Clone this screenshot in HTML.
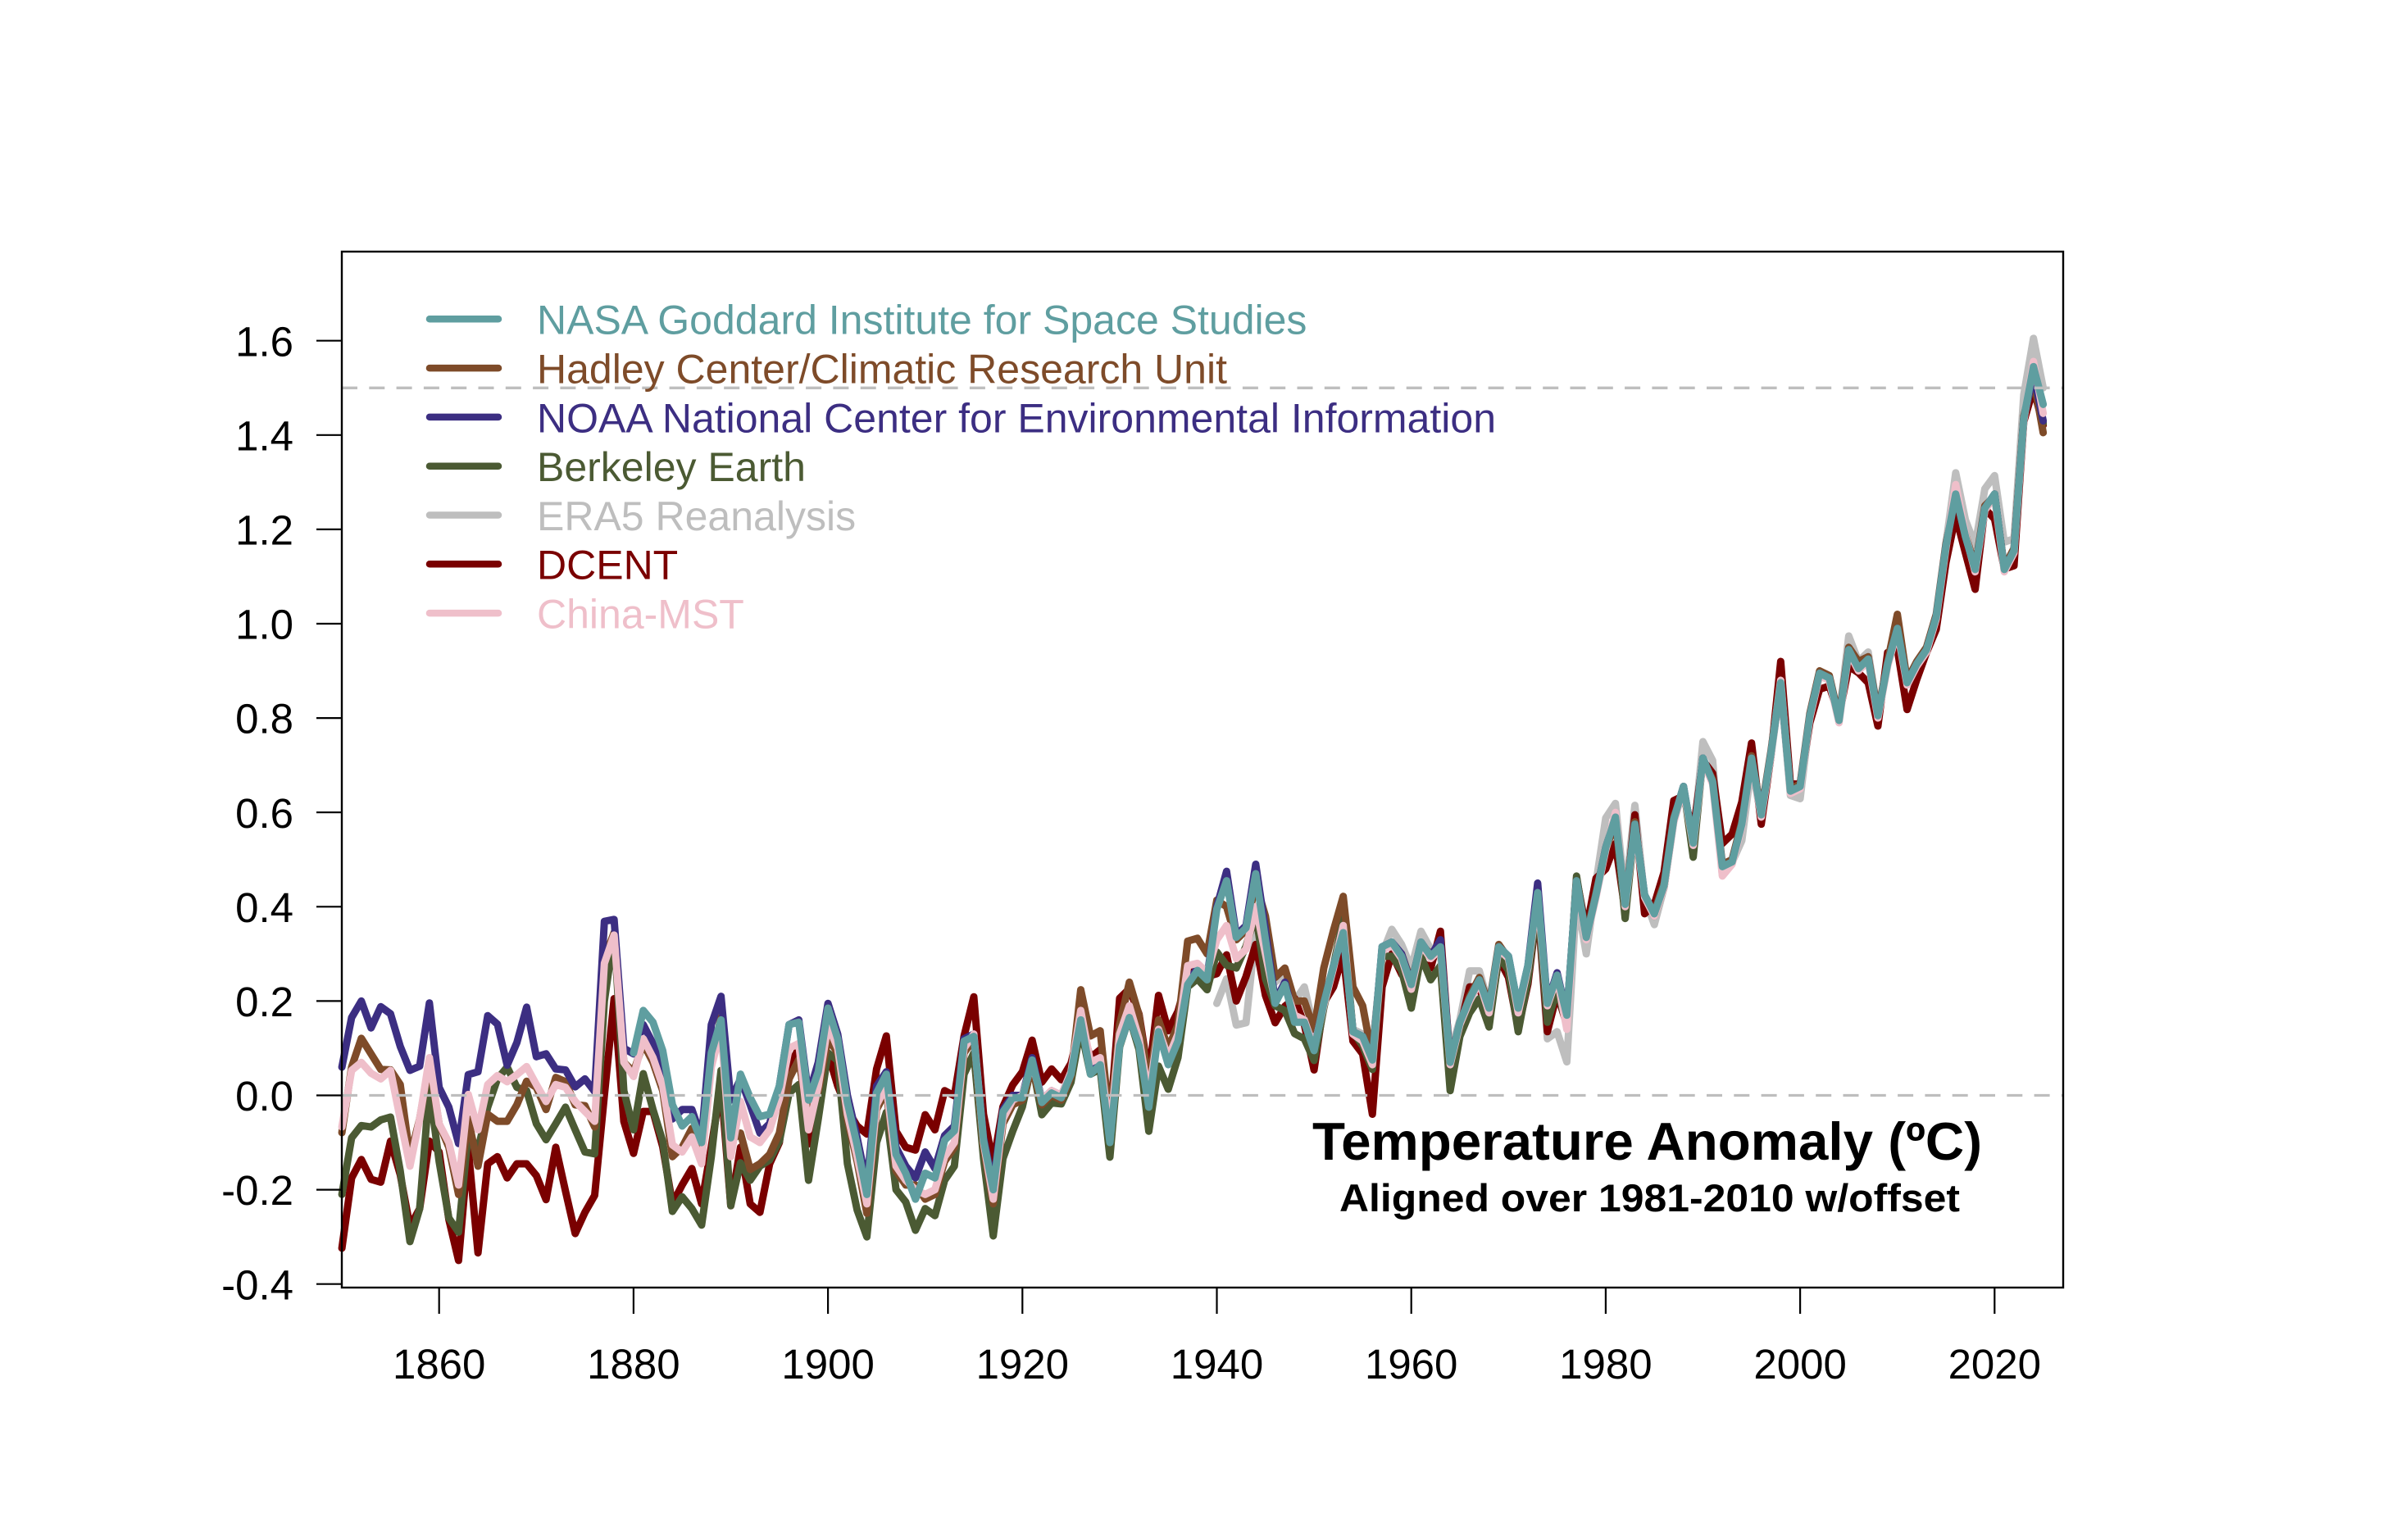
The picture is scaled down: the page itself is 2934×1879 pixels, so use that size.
<!DOCTYPE html>
<html>
<head>
<meta charset="utf-8">
<style>
  html,body{margin:0;padding:0;background:#fff;}
  svg{display:block;}
  text{font-family:"Liberation Sans",Arial,Helvetica,sans-serif;}
</style>
</head>
<body>
<svg xmlns="http://www.w3.org/2000/svg" width="2934" height="1879" viewBox="0 0 2934 1879">
<rect x="0" y="0" width="2934" height="1879" fill="#ffffff"/>

<!-- data series: x = year-1850, y = anomaly -->
<g transform="translate(417.1 1336.5) scale(11.86 -575.5)" fill="none" stroke-linejoin="round" stroke-linecap="round">
  <!-- ERA5 -->
  <polyline vector-effect="non-scaling-stroke" stroke="#BEBEBE" stroke-width="9" points="90,0.195 91,0.247 92,0.149 93,0.154 94,0.35 95,0.224 96,0.24 97,0.258 98,0.2 99,0.23 100,0.14 101,0.21 102,0.27 103,0.33 104,0.14 105,0.13 106,0.1 107,0.3 108,0.352 109,0.32 110,0.27 111,0.348 112,0.31 113,0.3 114,0.09 115,0.16 116,0.264 117,0.264 118,0.19 119,0.31 120,0.28 121,0.17 122,0.26 123,0.4 124,0.12 125,0.135 126,0.071 127,0.42 128,0.3 129,0.45 130,0.588 131,0.619 132,0.42 133,0.615 134,0.42 135,0.362 136,0.44 137,0.58 138,0.65 139,0.54 140,0.75 141,0.71 142,0.467 143,0.494 144,0.54 145,0.7 146,0.59 147,0.72 148,0.87 149,0.636 150,0.629 151,0.8 152,0.89 153,0.88 154,0.8 155,0.974 156,0.92 157,0.94 158,0.81 159,0.92 160,1 161,0.88 162,0.92 163,0.95 164,1.01 165,1.17 166,1.32 167,1.22 168,1.166 169,1.286 170,1.314 171,1.173 172,1.18 173,1.485 174,1.605 175,1.5"/>
  <!-- DCENT -->
  <polyline vector-effect="non-scaling-stroke" stroke="#7A0000" stroke-width="9" points="0,-0.324 1,-0.175 2,-0.136 3,-0.178 4,-0.184 5,-0.097 6,-0.168 7,-0.278 8,-0.24 9,-0.097 10,-0.12 11,-0.263 12,-0.35 13,-0.114 14,-0.334 15,-0.145 16,-0.13 17,-0.175 18,-0.145 19,-0.145 20,-0.17 21,-0.221 22,-0.11 23,-0.203 24,-0.293 25,-0.248 26,-0.212 27,0 28,0.205 29,-0.055 30,-0.123 31,-0.034 32,-0.034 33,-0.109 34,-0.23 35,-0.19 36,-0.155 37,-0.23 38,-0.109 39,0.023 40,-0.234 41,-0.11 42,-0.23 43,-0.248 44,-0.145 45,-0.1 46,0.06 47,0.1 48,-0.103 49,0 50,0.09 51,0.02 52,-0.03 53,-0.065 54,-0.082 55,0.056 56,0.126 57,-0.076 58,-0.11 59,-0.116 60,-0.041 61,-0.073 62,0.01 63,-0.001 64,0.126 65,0.209 66,-0.04 67,-0.145 68,-0.024 69,0.022 70,0.05 71,0.117 72,0.028 73,0.056 74,0.033 75,0.068 76,0.15 77,0.08 78,0.097 79,-0.06 80,0.206 81,0.226 82,0.172 83,0.04 84,0.212 85,0.137 86,0.178 87,0.252 88,0.27 89,0.252 90,0.258 91,0.298 92,0.2 93,0.252 94,0.32 95,0.212 96,0.154 97,0.189 98,0.206 99,0.15 100,0.054 101,0.196 102,0.23 103,0.3 104,0.115 105,0.088 106,-0.04 107,0.23 108,0.3 109,0.257 110,0.23 111,0.284 112,0.27 113,0.348 114,0.068 115,0.142 116,0.23 117,0.23 118,0.162 119,0.29 120,0.25 121,0.142 122,0.236 123,0.405 124,0.135 125,0.216 126,0.15 127,0.46 128,0.35 129,0.46 130,0.48 131,0.534 132,0.39 133,0.595 134,0.385 135,0.405 136,0.473 137,0.625 138,0.635 139,0.56 140,0.71 141,0.683 142,0.534 143,0.554 144,0.622 145,0.747 146,0.575 147,0.72 148,0.92 149,0.66 150,0.66 151,0.79 152,0.861 153,0.868 154,0.804 155,0.91 156,0.896 157,0.875 158,0.783 159,0.939 160,0.946 161,0.818 162,0.882 163,0.939 164,0.988 165,1.13 166,1.229 167,1.15 168,1.073 169,1.244 170,1.222 171,1.116 172,1.123 173,1.428 174,1.499 175,1.421"/>
  <!-- Berkeley -->
  <polyline vector-effect="non-scaling-stroke" stroke="#4B5A33" stroke-width="9" points="0,-0.21 1,-0.09 2,-0.064 3,-0.067 4,-0.052 5,-0.046 6,-0.16 7,-0.31 8,-0.24 9,0.017 10,-0.14 11,-0.26 12,-0.29 13,-0.08 14,-0.115 15,-0.025 16,0.035 17,0.06 18,0.017 19,0.01 20,-0.06 21,-0.094 22,-0.06 23,-0.025 24,-0.073 25,-0.12 26,-0.124 27,0.2 28,0.345 29,0.01 30,-0.073 31,0.046 32,-0.03 33,-0.097 34,-0.246 35,-0.215 36,-0.24 37,-0.275 38,-0.13 39,0.053 40,-0.234 41,-0.143 42,-0.18 43,-0.15 44,-0.137 45,-0.097 46,0.005 47,0.023 48,-0.18 49,-0.05 50,0.09 51,0.074 52,-0.145 53,-0.243 54,-0.3 55,-0.1 56,-0.036 57,-0.2 58,-0.226 59,-0.286 60,-0.24 61,-0.255 62,-0.18 63,-0.15 64,0.045 65,0.09 66,-0.134 67,-0.298 68,-0.134 69,-0.076 70,-0.024 71,0.068 72,-0.041 73,-0.016 74,-0.018 75,0.028 76,0.143 77,0.045 78,0.056 79,-0.131 80,0.103 81,0.166 82,0.097 83,-0.076 84,0.062 85,0.013 86,0.08 87,0.23 88,0.247 89,0.224 90,0.304 91,0.276 92,0.27 93,0.316 94,0.385 95,0.247 96,0.19 97,0.18 98,0.131 99,0.12 100,0.074 101,0.185 102,0.275 103,0.375 104,0.135 105,0.105 106,0.055 107,0.295 108,0.295 109,0.265 110,0.185 111,0.295 112,0.245 113,0.275 114,0.01 115,0.125 116,0.175 117,0.205 118,0.145 119,0.295 120,0.265 121,0.135 122,0.245 123,0.41 124,0.155 125,0.225 126,0.15 127,0.465 128,0.335 129,0.425 130,0.525 131,0.59 132,0.375 133,0.575 134,0.42 135,0.38 136,0.44 137,0.585 138,0.655 139,0.505 140,0.715 141,0.665 142,0.485 143,0.495 144,0.575 145,0.715 146,0.595 147,0.725 148,0.875 149,0.645 150,0.655 151,0.805 152,0.895 153,0.885 154,0.795 155,0.945 156,0.905 157,0.925 158,0.805 159,0.915 160,0.99 161,0.875 162,0.915 163,0.945 164,1.015 165,1.165 166,1.275 167,1.185 168,1.115 169,1.245 170,1.275 171,1.115 172,1.155 173,1.435 174,1.535 175,1.425"/>
  <!-- Hadley -->
  <polyline vector-effect="non-scaling-stroke" stroke="#7E4B29" stroke-width="9" points="0,-0.079 1,0.06 2,0.121 3,0.088 4,0.055 5,0.054 6,0.023 7,-0.13 8,-0.05 9,0.07 10,-0.06 11,-0.11 12,-0.21 13,-0.05 14,-0.15 15,-0.04 16,-0.055 17,-0.055 18,-0.02 19,0.03 20,0.017 21,-0.03 22,0.038 23,0.029 24,-0.02 25,-0.022 26,-0.067 27,0.29 28,0.345 29,0.07 30,0.05 31,0.11 32,0.07 33,0.01 34,-0.13 35,-0.11 36,-0.07 37,-0.13 38,0.07 39,0.166 40,-0.097 41,-0.08 42,-0.157 43,-0.145 44,-0.125 45,-0.08 46,0.035 47,0.076 48,-0.05 49,0.01 50,0.12 51,0.09 52,-0.05 53,-0.14 54,-0.25 55,-0.03 56,0.01 57,-0.16 58,-0.19 59,-0.19 60,-0.22 61,-0.21 62,-0.14 63,-0.11 64,0.09 65,0.12 66,-0.11 67,-0.23 68,-0.06 69,-0.02 70,-0.01 71,0.06 72,-0.02 73,0 74,-0.01 75,0.04 76,0.224 77,0.126 78,0.137 79,-0.06 80,0.15 81,0.24 82,0.17 83,0.02 84,0.16 85,0.1 86,0.15 87,0.327 88,0.333 89,0.3 90,0.414 91,0.4 92,0.33 93,0.35 94,0.45 95,0.38 96,0.25 97,0.27 98,0.2 99,0.2 100,0.14 101,0.27 102,0.35 103,0.422 104,0.23 105,0.19 106,0.08 107,0.31 108,0.32 109,0.3 110,0.24 111,0.32 112,0.3 113,0.31 114,0.07 115,0.15 116,0.21 117,0.25 118,0.19 119,0.32 120,0.29 121,0.18 122,0.27 123,0.42 124,0.19 125,0.25 126,0.17 127,0.45 128,0.34 129,0.43 130,0.52 131,0.58 132,0.41 133,0.58 134,0.42 135,0.39 136,0.45 137,0.59 138,0.65 139,0.54 140,0.71 141,0.67 142,0.49 143,0.5 144,0.58 145,0.72 146,0.6 147,0.73 148,0.88 149,0.65 150,0.66 151,0.81 152,0.9 153,0.89 154,0.8 155,0.95 156,0.92 157,0.93 158,0.81 159,0.92 160,1.02 161,0.88 162,0.92 163,0.95 164,1.02 165,1.17 166,1.27 167,1.19 168,1.12 169,1.25 170,1.27 171,1.12 172,1.16 173,1.44 174,1.52 175,1.405"/>
  <!-- NOAA -->
  <polyline vector-effect="non-scaling-stroke" stroke="#3C2E82" stroke-width="9" points="0,0.06 1,0.165 2,0.2 3,0.143 4,0.188 5,0.173 6,0.104 7,0.053 8,0.062 9,0.196 10,0.017 11,-0.025 12,-0.102 13,0.044 14,0.05 15,0.169 16,0.151 17,0.064 18,0.112 19,0.187 20,0.082 21,0.088 22,0.056 23,0.054 24,0.018 25,0.035 26,0.008 27,0.369 28,0.373 29,0.1 30,0.088 31,0.15 32,0.11 33,0.06 34,-0.05 35,-0.03 36,-0.03 37,-0.09 38,0.15 39,0.21 40,-0.01 41,0.035 42,-0.02 43,-0.08 44,-0.06 45,0.02 46,0.15 47,0.16 48,0 49,0.07 50,0.195 51,0.13 52,0 53,-0.09 54,-0.19 55,0.02 56,0.05 57,-0.11 58,-0.15 59,-0.175 60,-0.12 61,-0.155 62,-0.085 63,-0.065 64,0.12 65,0.13 66,-0.09 67,-0.19 68,-0.03 69,0 70,0 71,0.08 72,-0.01 73,0.01 74,0 75,0.05 76,0.16 77,0.05 78,0.07 79,-0.09 80,0.11 81,0.17 82,0.11 83,-0.02 84,0.14 85,0.07 86,0.12 87,0.24 88,0.27 89,0.25 90,0.4 91,0.475 92,0.34 93,0.36 94,0.49 95,0.35 96,0.2 97,0.24 98,0.16 99,0.16 100,0.1 101,0.195 102,0.275 103,0.345 104,0.135 105,0.125 106,0.075 107,0.315 108,0.325 109,0.3 110,0.235 111,0.325 112,0.295 113,0.33 114,0.07 115,0.155 116,0.205 117,0.245 118,0.185 119,0.315 120,0.295 121,0.185 122,0.275 123,0.45 124,0.195 125,0.26 126,0.17 127,0.455 128,0.335 129,0.425 130,0.525 131,0.59 132,0.405 133,0.575 134,0.425 135,0.385 136,0.445 137,0.585 138,0.655 139,0.535 140,0.715 141,0.665 142,0.485 143,0.495 144,0.575 145,0.715 146,0.595 147,0.725 148,0.875 149,0.645 150,0.655 151,0.805 152,0.895 153,0.885 154,0.795 155,0.945 156,0.905 157,0.925 158,0.805 159,0.915 160,0.99 161,0.875 162,0.915 163,0.945 164,1.015 165,1.165 166,1.275 167,1.185 168,1.115 169,1.245 170,1.275 171,1.115 172,1.155 173,1.435 174,1.53 175,1.43"/>
  <!-- China-MST -->
  <polyline vector-effect="non-scaling-stroke" stroke="#EFBFCA" stroke-width="9" points="0,-0.067 1,0.053 2,0.07 3,0.047 4,0.035 5,0.053 6,-0.05 7,-0.15 8,-0.05 9,0.08 10,-0.06 11,-0.1 12,-0.19 13,0.002 14,-0.073 15,0.023 16,0.042 17,0.029 18,0.044 19,0.061 20,0.023 21,-0.013 22,0.023 23,0.017 24,-0.013 25,-0.034 26,-0.055 27,0.28 28,0.34 29,0.07 30,0.04 31,0.12 32,0.08 33,0.02 34,-0.105 35,-0.12 36,-0.088 37,-0.145 38,0.06 39,0.14 40,-0.13 41,-0.013 42,-0.088 43,-0.1 44,-0.073 45,-0.007 46,0.1 47,0.11 48,-0.073 49,0.02 50,0.149 51,0.1 52,-0.04 53,-0.13 54,-0.23 55,-0.02 56,0.02 57,-0.15 58,-0.18 59,-0.2 60,-0.21 61,-0.2 62,-0.13 63,-0.1 64,0.1 65,0.13 66,-0.1 67,-0.22 68,-0.05 69,-0.01 70,0 71,0.07 72,-0.01 73,0.01 74,0 75,0.05 76,0.18 77,0.07 78,0.08 79,-0.08 80,0.13 81,0.19 82,0.12 83,0 84,0.14 85,0.08 86,0.13 87,0.275 88,0.28 89,0.26 90,0.33 91,0.36 92,0.29 93,0.31 94,0.4 95,0.3 96,0.2 97,0.23 98,0.17 99,0.16 100,0.1 101,0.19 102,0.27 103,0.36 104,0.13 105,0.115 106,0.065 107,0.305 108,0.32 109,0.29 110,0.225 111,0.32 112,0.29 113,0.31 114,0.065 115,0.15 116,0.2 117,0.24 118,0.175 119,0.31 120,0.29 121,0.175 122,0.27 123,0.42 124,0.19 125,0.25 126,0.14 127,0.45 128,0.33 129,0.42 130,0.52 131,0.6 132,0.4 133,0.57 134,0.42 135,0.38 136,0.44 137,0.58 138,0.65 139,0.53 140,0.71 141,0.66 142,0.465 143,0.49 144,0.57 145,0.71 146,0.59 147,0.72 148,0.88 149,0.64 150,0.65 151,0.8 152,0.89 153,0.88 154,0.79 155,0.94 156,0.9 157,0.92 158,0.8 159,0.91 160,0.985 161,0.87 162,0.91 163,0.94 164,1.01 165,1.16 166,1.295 167,1.19 168,1.11 169,1.24 170,1.27 171,1.11 172,1.15 173,1.43 174,1.556 175,1.446"/>
  <!-- NASA GISS -->
  <polyline vector-effect="non-scaling-stroke" stroke="#5F9EA0" stroke-width="9" points="30,0.09 31,0.18 32,0.155 33,0.095 34,-0.02 35,-0.065 36,-0.045 37,-0.1 38,0.09 39,0.16 40,-0.09 41,0.045 42,-0.005 43,-0.045 44,-0.04 45,0.02 46,0.15 47,0.155 48,-0.01 49,0.05 50,0.185 51,0.12 52,-0.015 53,-0.105 54,-0.21 55,0.005 56,0.045 57,-0.125 58,-0.165 59,-0.22 60,-0.165 61,-0.175 62,-0.095 63,-0.075 64,0.115 65,0.125 66,-0.095 67,-0.2 68,-0.035 69,-0.005 70,-0.005 71,0.075 72,-0.015 73,0.005 74,-0.005 75,0.045 76,0.16 77,0.045 78,0.065 79,-0.1 80,0.105 81,0.165 82,0.105 83,-0.025 84,0.135 85,0.065 86,0.115 87,0.235 88,0.265 89,0.245 90,0.395 91,0.455 92,0.335 93,0.355 94,0.47 95,0.33 96,0.195 97,0.235 98,0.155 99,0.155 100,0.095 101,0.195 102,0.275 103,0.345 104,0.135 105,0.125 106,0.075 107,0.315 108,0.325 109,0.295 110,0.235 111,0.325 112,0.295 113,0.315 114,0.07 115,0.155 116,0.205 117,0.245 118,0.185 119,0.315 120,0.295 121,0.185 122,0.275 123,0.43 124,0.195 125,0.255 126,0.17 127,0.455 128,0.335 129,0.425 130,0.525 131,0.59 132,0.405 133,0.575 134,0.425 135,0.385 136,0.445 137,0.585 138,0.655 139,0.535 140,0.715 141,0.665 142,0.485 143,0.495 144,0.575 145,0.715 146,0.595 147,0.725 148,0.875 149,0.645 150,0.655 151,0.805 152,0.895 153,0.885 154,0.795 155,0.945 156,0.905 157,0.925 158,0.805 159,0.915 160,0.99 161,0.875 162,0.915 163,0.945 164,1.015 165,1.165 166,1.275 167,1.185 168,1.115 169,1.245 170,1.275 171,1.115 172,1.155 173,1.435 174,1.545 175,1.465"/>
</g>

<!-- reference dashed lines -->
<line x1="417" y1="1336.5" x2="2517" y2="1336.5" stroke="#BEBEBE" stroke-width="3.3" stroke-dasharray="19 14.3"/>
<line x1="417" y1="473.3" x2="2517" y2="473.3" stroke="#BEBEBE" stroke-width="3.3" stroke-dasharray="19 14.3"/>

<!-- plot box -->
<rect x="417" y="307" width="2100" height="1264" fill="none" stroke="#000" stroke-width="2.4"/>

<!-- y ticks -->
<g stroke="#000" stroke-width="2.2">
  <line x1="386" y1="1566.7" x2="417" y2="1566.7"/>
  <line x1="386" y1="1451.6" x2="417" y2="1451.6"/>
  <line x1="386" y1="1336.5" x2="417" y2="1336.5"/>
  <line x1="386" y1="1221.4" x2="417" y2="1221.4"/>
  <line x1="386" y1="1106.3" x2="417" y2="1106.3"/>
  <line x1="386" y1="991.2" x2="417" y2="991.2"/>
  <line x1="386" y1="876.1" x2="417" y2="876.1"/>
  <line x1="386" y1="761" x2="417" y2="761"/>
  <line x1="386" y1="645.9" x2="417" y2="645.9"/>
  <line x1="386" y1="530.8" x2="417" y2="530.8"/>
  <line x1="386" y1="415.7" x2="417" y2="415.7"/>
</g>
<g font-size="51" fill="#000" text-anchor="end">
  <text x="358" y="1585.3">-0.4</text>
  <text x="358" y="1470.2">-0.2</text>
  <text x="358" y="1355.1">0.0</text>
  <text x="358" y="1240">0.2</text>
  <text x="358" y="1124.9">0.4</text>
  <text x="358" y="1009.8">0.6</text>
  <text x="358" y="894.7">0.8</text>
  <text x="358" y="779.6">1.0</text>
  <text x="358" y="664.5">1.2</text>
  <text x="358" y="549.4">1.4</text>
  <text x="358" y="434.3">1.6</text>
</g>

<!-- x ticks -->
<g stroke="#000" stroke-width="2.2">
  <line x1="535.7" y1="1571" x2="535.7" y2="1603"/>
  <line x1="772.9" y1="1571" x2="772.9" y2="1603"/>
  <line x1="1010.1" y1="1571" x2="1010.1" y2="1603"/>
  <line x1="1247.3" y1="1571" x2="1247.3" y2="1603"/>
  <line x1="1484.5" y1="1571" x2="1484.5" y2="1603"/>
  <line x1="1721.7" y1="1571" x2="1721.7" y2="1603"/>
  <line x1="1958.9" y1="1571" x2="1958.9" y2="1603"/>
  <line x1="2196.1" y1="1571" x2="2196.1" y2="1603"/>
  <line x1="2433.3" y1="1571" x2="2433.3" y2="1603"/>
</g>
<g font-size="51" fill="#000" text-anchor="middle">
  <text x="535.7" y="1682">1860</text>
  <text x="772.9" y="1682">1880</text>
  <text x="1010.1" y="1682">1900</text>
  <text x="1247.3" y="1682">1920</text>
  <text x="1484.5" y="1682">1940</text>
  <text x="1721.7" y="1682">1960</text>
  <text x="1958.9" y="1682">1980</text>
  <text x="2196.1" y="1682">2000</text>
  <text x="2433.3" y="1682">2020</text>
</g>

<!-- legend -->
<g stroke-width="8.5" stroke-linecap="round">
  <line x1="524" y1="389.3" x2="608" y2="389.3" stroke="#5F9EA0"/>
  <line x1="524" y1="449.1" x2="608" y2="449.1" stroke="#7E4B29"/>
  <line x1="524" y1="508.9" x2="608" y2="508.9" stroke="#3C2E82"/>
  <line x1="524" y1="568.7" x2="608" y2="568.7" stroke="#4B5A33"/>
  <line x1="524" y1="628.5" x2="608" y2="628.5" stroke="#BEBEBE"/>
  <line x1="524" y1="688.3" x2="608" y2="688.3" stroke="#7A0000"/>
  <line x1="524" y1="748.1" x2="608" y2="748.1" stroke="#EFBFCA"/>
</g>
<g font-size="50">
  <text x="655" y="407.7" fill="#5F9EA0">NASA Goddard Institute for Space Studies</text>
  <text x="655" y="467.5" fill="#7E4B29">Hadley Center/Climatic Research Unit</text>
  <text x="655" y="527.3" fill="#3C2E82">NOAA National Center for Environmental Information</text>
  <text x="655" y="587.1" fill="#4B5A33">Berkeley Earth</text>
  <text x="655" y="646.9" fill="#BEBEBE">ERA5 Reanalysis</text>
  <text x="655" y="706.7" fill="#7A0000">DCENT</text>
  <text x="655" y="766.5" fill="#EFBFCA">China-MST</text>
</g>

<!-- title -->
<text x="1601" y="1415" font-size="65" font-weight="bold" fill="#000" textLength="817" lengthAdjust="spacingAndGlyphs">Temperature Anomaly (ºC)</text>
<text x="1634" y="1478" font-size="47" font-weight="bold" fill="#000" textLength="757" lengthAdjust="spacingAndGlyphs">Aligned over 1981-2010 w/offset</text>
</svg>
</body>
</html>
